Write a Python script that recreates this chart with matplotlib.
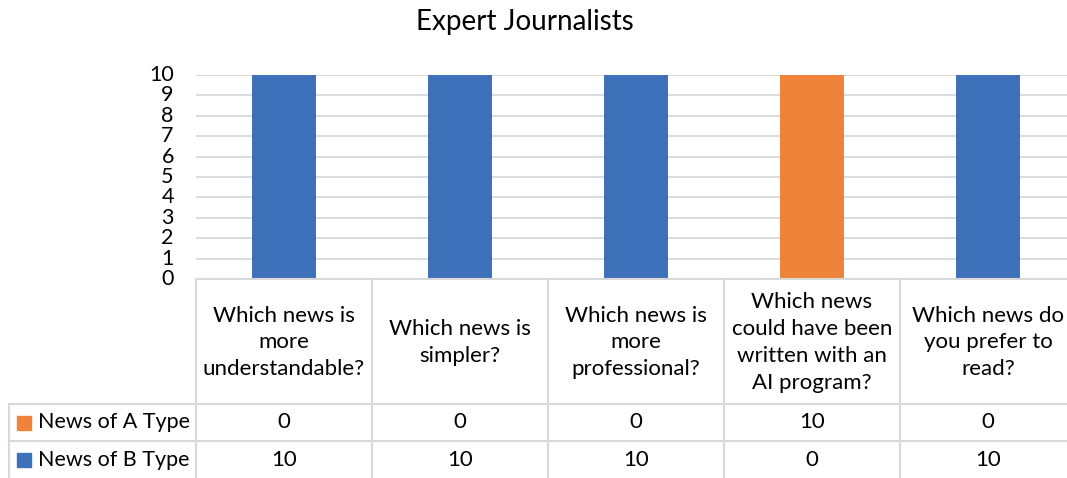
import numpy as np
import matplotlib
matplotlib.use("Agg")
import matplotlib.pyplot as plt
from matplotlib.transforms import blended_transform_factory

categories = [
    "Which news is\nmore\nunderstandable?",
    "Which news is\nsimpler?",
    "Which news is\nmore\nprofessional?",
    "Which news\ncould have been\nwritten with an\nAI program?",
    "Which news do\nyou prefer to\nread?",
]
series_names = ["News of A Type", "News of B Type"]
a_type = [0, 0, 0, 10, 0]
b_type = [10, 10, 10, 0, 10]
colors = ["#F0833A", "#3F71BA"]
grid_col = "#D9D9D9"

plt.rcParams["font.family"] = ["Lato", "DejaVu Sans"]

W, H = 1067, 478
fig = plt.figure(figsize=(W / 100, H / 100), dpi=100)

# plot area in pixels (extends slightly past the right edge like the original)
left, right, top, bottom = 196, 1076, 75, 279
ax = fig.add_axes([left / W, 1 - bottom / H, (right - left) / W, (bottom - top) / H])

x = np.arange(len(categories))
ax.bar(x, a_type, width=0.36, color=colors[0], zorder=3)
ax.bar(x, b_type, width=0.36, bottom=a_type, color=colors[1], zorder=3)

ax.set_xlim(-0.5, len(categories) - 0.5)
ax.set_ylim(0, 10)
ax.set_yticks(range(0, 11))
ax.tick_params(axis="y", length=0, labelsize=15.5, pad=16)
ax.tick_params(axis="x", length=0, labelbottom=False)
ax.yaxis.grid(True, color=grid_col, linewidth=1.3, zorder=0)
for s in ax.spines.values():
    s.set_visible(False)
for lbl in ax.get_yticklabels():
    lbl.set_verticalalignment("center")

fig.text(525 / W, 1 - 22 / H, "Expert Journalists", ha="center", va="center", fontsize=20)

# data table below the plot (x in data units, y in figure pixels)
tr = blended_transform_factory(ax.transData, fig.transFigure)
fy = lambda py: 1 - py / H
fx = lambda px: px / W
head_top, row1, row2, row3 = 279, 404, 441, 478
lkw = dict(color=grid_col, linewidth=1.5, clip_on=False)

fig.add_artist(plt.Line2D([fx(left), 1], [fy(head_top)] * 2, **lkw))
for py in (row1, row2):
    fig.add_artist(plt.Line2D([fx(9), 1], [fy(py)] * 2, **lkw))
fig.add_artist(plt.Line2D([fx(9), fx(9)], [fy(row1), fy(row3)], **lkw))
for i in range(len(categories)):
    ax.plot([i - 0.5, i - 0.5], [fy(head_top), fy(row3)], transform=tr, **lkw)

for i, cat in enumerate(categories):
    ax.text(i, fy((head_top + row1) / 2 + 1), cat, transform=tr, ha="center", va="center",
            fontsize=16, linespacing=1.42, clip_on=False)
    ax.text(i, fy((row1 + row2) / 2), str(a_type[i]), transform=tr, ha="center",
            va="center", fontsize=16, clip_on=False)
    ax.text(i, fy((row2 + row3) / 2), str(b_type[i]), transform=tr, ha="center",
            va="center", fontsize=16, clip_on=False)

for k, (name, ys) in enumerate(zip(series_names, [(row1, row2), (row2, row3)])):
    cy = (ys[0] + ys[1]) / 2
    fig.add_artist(plt.Rectangle((fx(17), fy(cy + 7)), 14 / W, 14 / H,
                                 color=colors[k], transform=fig.transFigure))
    fig.text(fx(38), fy(cy), name, ha="left", va="center", fontsize=15.5)

fig.savefig("out.png", dpi=100)
